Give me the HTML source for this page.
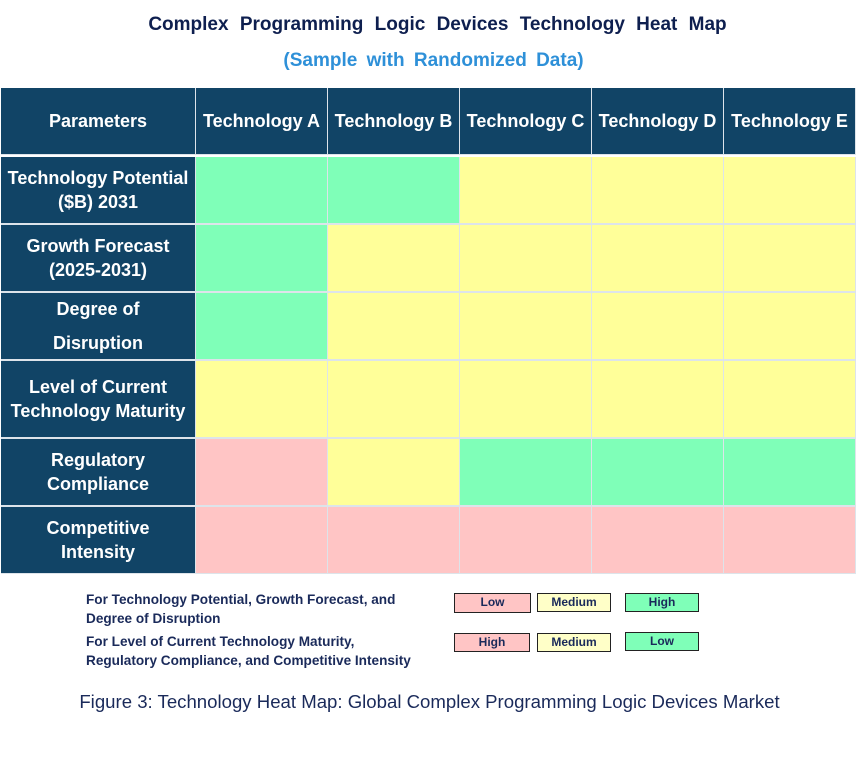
<!DOCTYPE html><html><head><style>
body{margin:0;width:859px;height:763px;background:#fff;position:relative;font-family:"Liberation Sans",Arial,sans-serif;overflow:hidden}
.a{position:absolute}
.t{left:0;width:859px;text-align:center;font-weight:bold;font-size:19px}
.h{background:#114466;color:#fff;font-weight:bold;font-size:18px;display:flex;align-items:center;justify-content:center;text-align:center;line-height:24px}
.G{background:#7fffb8}.Y{background:#ffff99}.P{background:#ffc5c5}
.lg{font-size:13.6px;font-weight:bold;color:#1a2a5a;line-height:19px}
.b{border:1px solid #222;font-size:12px;font-weight:bold;color:#1a2a5a;text-align:center;box-sizing:border-box;line-height:17px}
</style></head><body>
<div class="a t" style="top:14px;color:#0e1f4f;word-spacing:6px;left:8px">Complex Programming Logic Devices Technology Heat Map</div>
<div class="a t" style="top:50px;color:#2e90d8;word-spacing:4px;left:4px">(Sample with Randomized Data)</div>
<div class="a" style="left:1px;top:88px;width:855px;height:486px;background:#dde4ea"></div>
<div id="g"></div>
<script>
var cx=[1,196,328,460,592,724,856];
var ry=[[88,155],[157,224],[225,292],[293,360],[361,438],[439,506],[507,574]];
var hd=["Parameters","Technology A","Technology B","Technology C","Technology D","Technology E"];
var rl=["Technology Potential<br>($B) 2031","Growth Forecast<br>(2025-2031)","<span style='line-height:34px'>Degree of<br>Disruption</span>","Level of Current<br>Technology Maturity","Regulatory<br>Compliance","Competitive<br>Intensity"];
var c=["GGYYY","GYYYY","GYYYY","YYYYY","PYGGG","PPPPP"];
var h="";
h+='<div class="a" style="left:1px;top:155px;width:855px;height:2px;background:#fff"></div>';
for(var r=0;r<7;r++)for(var k=0;k<6;k++){
var x=cx[k],w=cx[k+1]-x-1,y=ry[r][0],hh=ry[r][1]-y-1;
if(r==0||k==0){h+='<div class="a h" style="left:'+x+'px;top:'+y+'px;width:'+w+'px;height:'+hh+'px">'+(r==0?hd[k]:rl[r-1])+'</div>';}
else h+='<div class="a '+c[r-1][k-1]+'" style="left:'+x+'px;top:'+y+'px;width:'+w+'px;height:'+hh+'px"></div>';}
document.getElementById("g").innerHTML=h;
</script>
<div class="a lg" style="left:86px;top:590px">For Technology Potential, Growth Forecast, and<br>Degree of Disruption</div>
<div class="a lg" style="left:86px;top:632px">For Level of Current Technology Maturity,<br>Regulatory Compliance, and Competitive Intensity</div>
<div class="a b P" style="left:454px;top:593px;width:77px;height:20px">Low</div>
<div class="a b" style="left:537px;top:593px;width:74px;height:19px;background:#ffffc8">Medium</div>
<div class="a b G" style="left:625px;top:593px;width:74px;height:19px">High</div>
<div class="a b P" style="left:454px;top:633px;width:76px;height:19px">High</div>
<div class="a b" style="left:537px;top:633px;width:74px;height:19px;background:#ffffc8">Medium</div>
<div class="a b G" style="left:625px;top:632px;width:74px;height:19px">Low</div>
<div class="a" style="left:0;width:859px;text-align:center;top:691px;font-size:18.6px;color:#1a2a5a">Figure 3: Technology Heat Map: Global Complex Programming Logic Devices Market</div>
</body></html>
